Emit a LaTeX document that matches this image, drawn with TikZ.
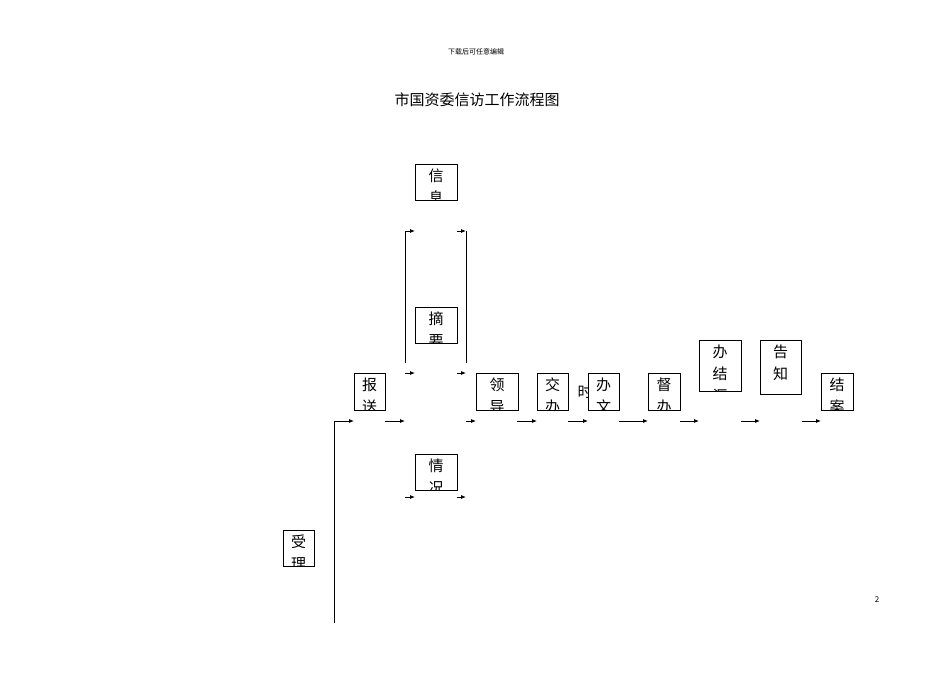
\documentclass[tikz,border=0pt]{standalone}
\usepackage{fontspec}
\setmainfont{Noto Sans CJK SC}
\usetikzlibrary{arrows.meta}
\begin{document}
\begin{tikzpicture}[x=1pt,y=-1pt,
  ar/.style={-{Latex[length=5pt,width=4pt]},line width=0.8pt},
  ln/.style={line width=0.8pt},
  bx/.style={draw,line width=0.8pt}]
\useasboundingbox (0,0) rectangle (950,672);
\newcommand{\bb}[6]{% name,x1,y1,x2,y2,text lines
  \coordinate (#1) at ({(#2+#4)/2},{(#3+#5)/2});
  \begin{scope}
  \clip (#2,#3) rectangle (#4,#5);
  \node[anchor=north,align=center,font=\fontsize{15}{22}\selectfont,inner sep=0pt] (#1t) at ({(#2+#4)/2},#3+5) {#6};
  \end{scope}
  \draw[bx] (#2,#3) rectangle (#4,#5);}
\node[font=\fontsize{7}{8}\selectfont] (hd) at (476,52) {下载后可任意编辑};
\node[font=\fontsize{15}{18}\selectfont] (tt) at (477,100) {市国资委信访工作流程图};
\node[font=\fontsize{8}{9}\selectfont] (pg) at (877,600) {2};
\node[font=\fontsize{15}{18}\selectfont,inner sep=0pt] (shi) at (585,392) {时};
\fill[white] (588,373) rectangle (619,410);
\bb{xin}{415}{164}{457}{200}{信\\息}
\bb{zhai}{415}{307}{457}{343}{摘\\要}
\bb{bao}{354}{373}{385}{410}{报\\送}
\bb{ling}{476}{373}{518}{410}{领\\导}
\bb{jiao}{537}{373}{568}{410}{交\\办}
\bb{ban}{588}{373}{619}{410}{办\\文}
\bb{du}{648}{373}{680}{410}{督\\办}
\bb{bj}{699}{340}{741}{391}{办\\结\\汇}
\bb{gz}{760}{340}{801}{394}{告\\知\\。}
\bb{ja}{821}{373}{853}{410}{结\\案}
\bb{qing}{415}{454}{457}{490}{情\\况}
\bb{shou}{283}{530}{314}{566}{受\\理}
% main line
\coordinate (s0) at (334,623); \coordinate (s1) at (334,421);
\draw[ln] (s0) -- (s1);
\draw[ar] (s1) -- (354,421);
\foreach \a/\b in {385/405,466/476,517/537,568/588,619/648,680/699,741/760,802/821}
  \draw[ar] (\a,421) -- (\b,421);
\draw[ln] (405,363) -- (405,231); \draw[ln] (466,363) -- (466,231);
\foreach \y in {231,373,497}{
  \draw[ar] (405,\y) -- (415,\y);
  \draw[ar] (457,\y) -- (466,\y);}
\end{tikzpicture}
\end{document}
